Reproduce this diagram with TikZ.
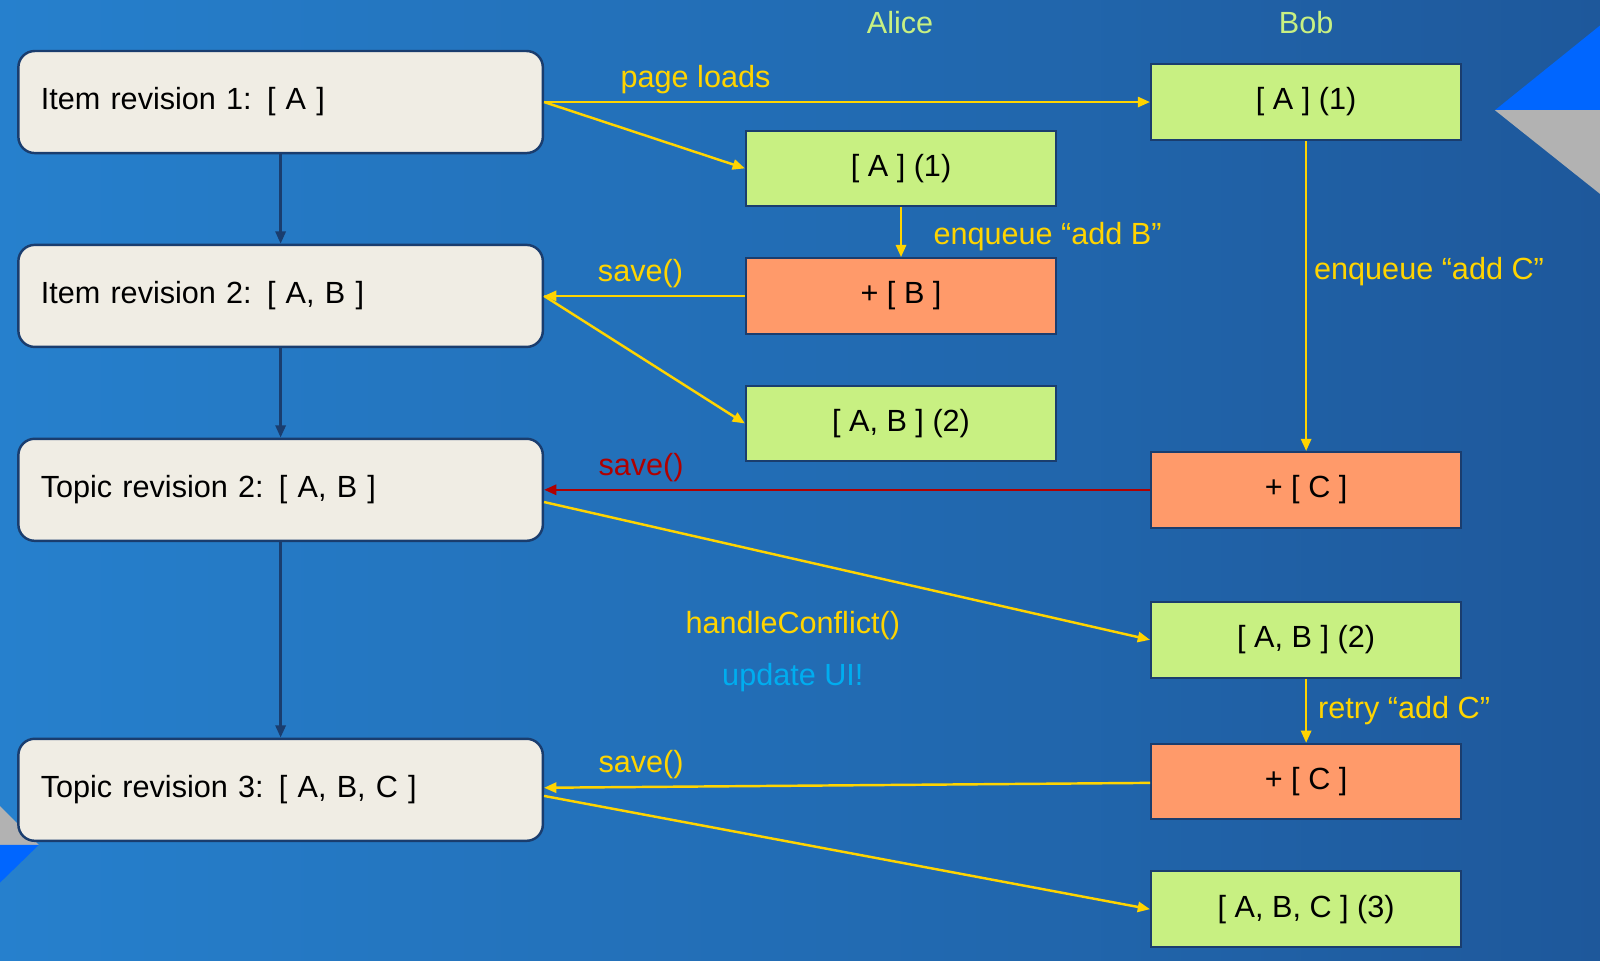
\documentclass[tikz,border=0pt]{standalone}
\usepackage{fontspec}
\setmainfont{Liberation Sans}
\usetikzlibrary{arrows.meta}
\definecolor{cRev}{HTML}{F0EDE4}
\definecolor{cOk}{HTML}{C8F082}
\definecolor{cOp}{HTML}{FF9A6A}
\definecolor{cEdge}{HTML}{1A3D6E}
\definecolor{cFlow}{HTML}{FFD400}
\definecolor{cBad}{HTML}{B00000}
\begin{document}
\begin{tikzpicture}[x=0.5pt, y=-0.5pt,
   >={Triangle[length=6pt,width=5pt]}, font=\fontsize{15}{18}\selectfont,
   rev/.style = {draw=cEdge, line width=1.2pt, fill=cRev, rounded corners=8pt,
      minimum width=257pt, minimum height=50pt, text width=235pt, align=left},
   ok/.style = {draw=cEdge, line width=1pt, fill=cOk, minimum width=152pt, minimum height=37pt},
   op/.style = {ok, fill=cOp},
   flow/.style = {->, draw=cFlow, line width=1.2pt},
   lbl/.style = {text=cFlow}]
   \useasboundingbox (0,0) rectangle (1568,941);
   \shade[left color={rgb,255:red,38;green,128;blue,205}, right color={rgb,255:red,30;green,88;blue,155}]
      (0,0) rectangle (1568,941);
   % corner marks
   \fill[blue!60!cyan] (1568,25) -- (1465,108) -- (1568,108) -- cycle;
   \fill[gray!60] (1465,108) -- (1568,108) -- (1568,190) -- cycle;
   \fill[gray!60] (0,790) -- (38,828) -- (0,828) -- cycle;
   \fill[blue!60!cyan] (0,828) -- (38,828) -- (0,865) -- cycle;

   \node[text=cOk] (alice) at (882,22) {Alice};
   \node[text=cOk] (bob) at (1280,22) {Bob};

   \node[rev] (r1) at (275,100) {Item revision 1: [ A ]};
   \node[rev] (r2) at (275,290) {Item revision 2: [ A, B ]};
   \node[rev] (r3) at (275,480) {Topic revision 2: [ A, B ]};
   \node[rev] (r4) at (275,774) {Topic revision 3: [ A, B, C ]};

   \node[ok] (a1) at (883,165) {[ A ] (1)};
   \node[op] (ab) at (883,290) {+ [ B ]};
   \node[ok] (a2) at (883,415) {[ A, B ] (2)};

   \node[ok] (b1) at (1280,100) {[ A ] (1)};
   \node[op] (bc) at (1280,480) {+ [ C ]};
   \node[ok] (b2) at (1280,627) {[ A, B ] (2)};
   \node[op] (bc2) at (1280,766) {+ [ C ]};
   \node[ok] (b3) at (1280,891) {[ A, B, C ] (3)};

   \foreach \a/\b in {r1/r2, r2/r3, r3/r4}
     \draw[->, draw=cEdge, line width=1.2pt] (\a) -- (\b);

   \draw[flow] (r1.east) -- node[lbl, above, pos=0.25] {page loads} (b1);
   \draw[flow] (r1.east) -- (a1.west);
   \draw[flow] (a1) -- node[lbl, right, xshift=12pt, yshift=-2pt] {enqueue “add B”} (ab);
   \draw[flow] (ab) -- node[lbl, above, pos=0.52] {save()} (r2.east);
   \draw[flow] (r2.east) -- (a2.west);
   \draw[flow] (b1) -- node[lbl, right, pos=0.42] {enqueue “add C”} (bc);
   \draw[->, draw=cBad, line width=1.2pt] (bc) -- node[text=cBad, above, pos=0.84] {save()} (r3.east);
   \draw[flow] ([yshift=-6pt]r3.east) -- (b2.west);
   \node[lbl] (hc) at (777,613) {handleConflict()};
   \node[text=cyan] (ui) at (777,664) {update UI!};
   \draw[flow] (b2) -- node[lbl, right, xshift=2pt] {retry “add C”} (bc2);
   \draw[flow] (bc2) -- node[lbl, above, pos=0.84] {save()} ([yshift=1pt]r4.east);
   \draw[flow] ([yshift=-3pt]r4.east) -- (b3.west);
\end{tikzpicture}
\end{document}
